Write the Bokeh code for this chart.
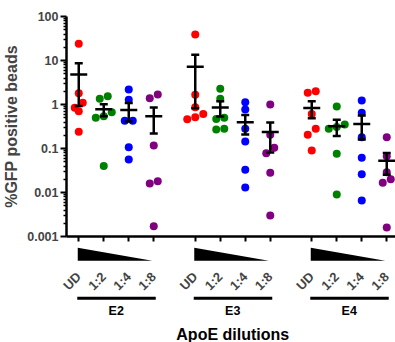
import math
from bokeh.plotting import figure
from bokeh.models import Range1d, FixedTicker, CustomJSTickFormatter, ColumnDataSource, LinearScale
from bokeh.embed import file_html
from bokeh.resources import INLINE
from bokeh.core.properties import value

# ---------------- data ----------------
groups = ["E2", "E3", "E4"]
dilutions = ["UD", "1:2", "1:4", "1:8"]
dil_colors = ["#FF0000", "#008000", "#0000FF", "#800080"]

e2_ud = [24, 1.8, 1.1, 0.84, 0.70, 0.24]
e2_12 = [1.55, 1.35, 0.67, 0.54, 0.50, 0.040]
e2_14 = [2.19, 1.28, 0.43, 0.43, 0.107, 0.056]
e2_18 = [1.69, 1.39, 0.117, 0.018, 0.016, 0.0017]
e3_ud = [39, 1.66, 0.87, 0.61, 0.51, 0.46]
e3_12 = [2.27, 1.35, 0.50, 0.47, 0.28, 0.27]
e3_14 = [1.13, 0.77, 0.28, 0.144, 0.033, 0.013]
e3_18 = [1.0, 0.205, 0.104, 0.078, 0.028, 0.003]
e4_ud = [2.0, 1.84, 0.61, 0.28, 0.205, 0.09]
e4_12 = [0.90, 0.35, 0.31, 0.28, 0.076, 0.009]
e4_14 = [1.23, 0.65, 0.18, 0.062, 0.026, 0.0066]
e4_18 = [0.18, 0.067, 0.029, 0.020, 0.0166, 0.0016]

series = [[e2_ud, e2_12, e2_14, e2_18],
          [e3_ud, e3_12, e3_14, e3_18],
          [e4_ud, e4_12, e4_14, e4_18]]

y_ticks = [0.001, 0.01, 0.1, 1, 10, 100]
y_label = "%GFP positive beads"
x_label = "ApoE dilutions"

# ---------------- layout constants ----------------
FONT = value("Liberation Sans")
GROUP_STEP = 4.66
X0, X1 = -0.49, 12.67          # frame x range (category units)
W, H = 395, 342
LEFT, TOP, BOTTOM = 66, 16, 106
FRAME_H = H - TOP - BOTTOM      # 220 px: 100 .. 0.001
PX_PER_U = (W - LEFT) / (X1 - X0)
PX_PER_DEC = FRAME_H / 5.0


def jitter(vals):
    """Symmetric row spreading of points that overlap vertically."""
    order = sorted(range(len(vals)), key=lambda i: -vals[i])
    ypx = [math.log10(v) * PX_PER_DEC for v in vals]
    bins, cur = [], [order[0]]
    for i in order[1:]:
        if ypx[cur[0]] - ypx[i] < 6.0:
            cur.append(i)
        else:
            bins.append(cur)
            cur = [i]
    bins.append(cur)
    offs = [0.0] * len(vals)
    sp = 8.0 / PX_PER_U
    for b in bins:
        b = sorted(b, key=lambda i: vals[i])
        n = len(b)
        for k, i in enumerate(b):
            offs[i] = (k - (n - 1) / 2) * sp
    return offs


tick_pos = []
px, py, pc = [], [], []
mx0, mx1, my = [], [], []
cx0, cx1, cy = [], [], []
vx, vy0, vy1 = [], [], []
for g, gser in enumerate(series):
    for d, vals in enumerate(gser):
        u = g * GROUP_STEP + d
        tick_pos.append(u)
        offs = jitter(vals)
        for v, o in zip(vals, offs):
            px.append(u + o); py.append(v); pc.append(dil_colors[d])
        n = len(vals)
        mean = sum(vals) / n
        sd = math.sqrt(sum((v - mean) ** 2 for v in vals) / (n - 1))
        sem = sd / math.sqrt(n)
        mx0.append(u - 0.34); mx1.append(u + 0.34); my.append(mean)
        for yy in (mean - sem, mean + sem):
            cx0.append(u - 0.16); cx1.append(u + 0.16); cy.append(yy)
        vx.append(u); vy0.append(mean - sem); vy1.append(mean + sem)

# ---------------- figure ----------------
p = figure(width=W, height=H, y_axis_type="log",
           x_range=Range1d(X0, X1), y_range=Range1d(0.001, 100),
           output_backend="svg", toolbar_location=None,
           min_border_left=LEFT, min_border_right=0,
           min_border_top=TOP, min_border_bottom=BOTTOM)
p.outline_line_color = None
p.grid.visible = False
p.background_fill_color = "white"
# linear pixel-like range for decorations under the axis (0 = frame top)
p.extra_y_ranges = {"px": Range1d(-FRAME_H, 0)}
p.extra_y_scales = {"px": LinearScale()}

ya = p.yaxis[0]
minors = [m * 10.0 ** k for k in range(-3, 2) for m in range(2, 10)]
ya.ticker = FixedTicker(ticks=y_ticks, minor_ticks=minors)
ya.formatter = CustomJSTickFormatter(code="return tick.toString();")
ya.axis_line_width = 2.5
ya.major_tick_line_width = 2
ya.major_tick_out = 6
ya.major_tick_in = 0
ya.minor_tick_out = 3
ya.minor_tick_in = 0
ya.minor_tick_line_width = 1.5
ya.major_label_text_font = "Liberation Sans"
ya.major_label_text_font_style = "bold"
ya.major_label_text_font_size = "12.5px"
ya.major_label_standoff = 2
ya.axis_label = y_label
ya.axis_label_text_font = "Liberation Sans"
ya.axis_label_text_font_style = "bold"
ya.axis_label_text_font_size = "16px"
ya.axis_label_standoff = 4

xa = p.xaxis[0]
xa.ticker = FixedTicker(ticks=tick_pos, minor_ticks=[])
xa.formatter = CustomJSTickFormatter(args=dict(labels=dilutions),
                                     code="return labels[index % labels.length];")
xa.axis_line_width = 2.5
xa.major_tick_line_width = 2
xa.major_tick_out = 5
xa.major_tick_in = 0
xa.minor_tick_out = 0
xa.major_label_orientation = math.pi / 4
xa.major_label_text_font = "Liberation Sans"
xa.major_label_text_font_style = "bold"
xa.major_label_text_font_size = "13px"
xa.major_label_standoff = 33

src = ColumnDataSource(dict(x=px, y=py, c=pc))
p.scatter("x", "y", source=src, size=8, fill_color="c", line_color=None)
p.segment(x0=mx0, y0=my, x1=mx1, y1=my, line_color="black", line_width=2.5)
p.segment(x0=cx0, y0=cy, x1=cx1, y1=cy, line_color="black", line_width=2.5)
p.segment(x0=vx, y0=vy0, x1=vx, y1=vy1, line_color="black", line_width=2.5)

# ---------------- decorations below the axis ----------------
gx0, gx1, gy, gl, glx, gly = [], [], [], [], [], []
for g, name in enumerate(groups):
    g0 = g * GROUP_STEP
    # dilution wedge: tall at undiluted end, tapering to the 1:8 end
    p.varea(x=[g0 - 0.04, g0 + 2.94], y1=[-244.3, -244.3], y2=[-231.3, -244.3],
            fill_color="black", y_range_name="px", level="overlay")
    gx0.append(g0 - 0.06); gx1.append(g0 + 3.08); gy.append(-281.7)
    gl.append(name); glx.append(g0 + 1.5); gly.append(-294)

p.segment(x0=gx0, y0=gy, x1=gx1, y1=gy, line_color="black", line_width=3,
          y_range_name="px", level="overlay")
p.text(x=glx, y=gly, text=gl, text_align="center", text_baseline="middle",
       text_font=FONT, text_font_style="bold", text_font_size="12.5px",
       text_color="black", y_range_name="px", level="overlay")
p.text(x=[GROUP_STEP + 1.5], y=[-318.3], text=[x_label], text_align="center",
       text_baseline="middle", text_font=FONT, text_font_style="bold",
       text_font_size="16px", text_color="black", y_range_name="px", level="overlay")

open("out.html", "w").write(file_html(p, INLINE))
